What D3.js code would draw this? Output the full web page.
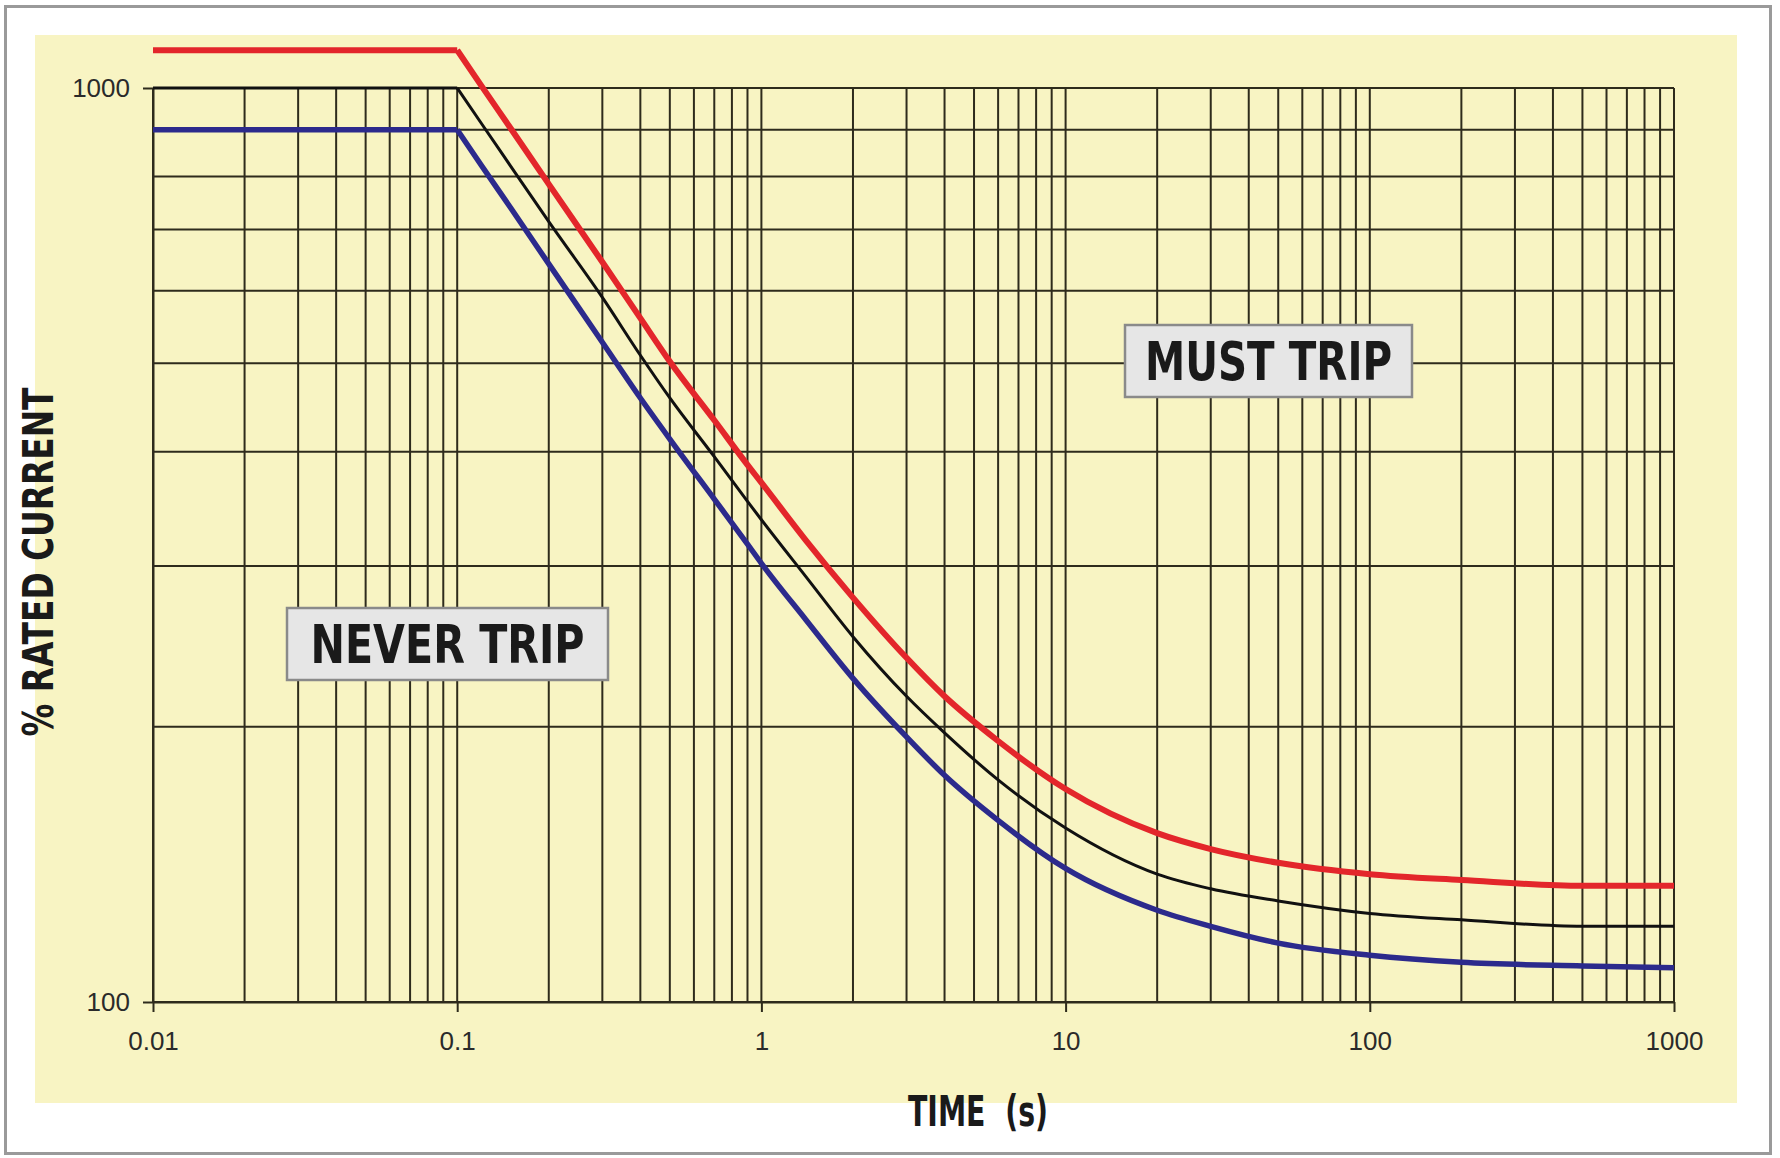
<!DOCTYPE html>
<html>
<head>
<meta charset="utf-8">
<script src="https://cdn.jsdelivr.net/npm/d3@7/dist/d3.min.js"></script>
<style>
  html, body { margin: 0; padding: 0; background: #ffffff; }
  svg { display: block; }
</style>
</head>
<body>
<svg id="chart" width="1780" height="1158"></svg>
<script>
// ---- data ----
const timeTicks = [0.01, 0.1, 1, 10, 100, 1000];
const timeTickLabels = ["0.01", "0.1", "1", "10", "100", "1000"];
const currentTicks = [100, 1000];
const currentTickLabels = ["100", "1000"];

const times = [0.01, 0.1, 0.12, 0.15, 0.2, 0.3, 0.4, 0.5, 0.7, 0.9, 1, 1.4, 2, 3, 4, 6, 10, 20, 30, 50, 100, 200, 500, 1000];
const upperCurve = [1100, 1100, 1006, 903, 785, 645, 560, 502, 433, 387, 370, 320, 277, 238, 216, 193, 171, 153, 147, 142, 138, 136, 134, 134];
const nominalCurve = [1000, 1000, 915, 821, 714, 590, 510, 458, 395, 353, 337, 292, 251, 216, 197, 175, 155, 138, 133, 129, 125, 123, 121, 121];
const lowerCurve = [900, 900, 823, 739, 642, 527, 458, 413, 355, 317, 302, 262, 226, 195, 177, 158, 140, 126, 121, 116, 112.5, 110.5, 109.5, 109];

const seriesNames = ["upper", "nominal", "lower"];
const zoneLabels = ["NEVER TRIP", "MUST TRIP"];
const xTitle = "TIME  (s)";
const yTitle = "% RATED CURRENT";

// ---- layout ----
const svg = d3.select("#chart");
const W = 1780, H = 1158;
const plot = { left: 153, right: 1674, top: 88, bottom: 1002 };

const x = d3.scaleLog().domain([0.01, 1000]).range([plot.left, plot.right]);
const y = d3.scaleLog().domain([100, 1000]).range([plot.bottom, plot.top]);

// outer frame
svg.append("rect").attr("x", 0).attr("y", 0).attr("width", W).attr("height", H).attr("fill", "#ffffff");
svg.append("rect").attr("x", 5.5).attr("y", 6.5).attr("width", 1765).attr("height", 1147)
  .attr("fill", "#ffffff").attr("stroke", "#9a9a9a").attr("stroke-width", 3);

// yellow panel
svg.append("rect").attr("x", 35).attr("y", 35).attr("width", 1702).attr("height", 1068)
  .attr("fill", "#f8f4c3");

// grid
const gridColor = "#2e2b1c";
const grid = svg.append("g");
grid.selectAll("line.v").data(x.ticks()).join("line")
  .attr("class", "v")
  .attr("x1", d => x(d)).attr("x2", d => x(d))
  .attr("y1", plot.top).attr("y2", plot.bottom)
  .attr("stroke", gridColor).attr("stroke-width", 2);
grid.selectAll("line.h").data(y.ticks()).join("line")
  .attr("class", "h")
  .attr("y1", d => y(d)).attr("y2", d => y(d))
  .attr("x1", plot.left).attr("x2", plot.right)
  .attr("stroke", gridColor).attr("stroke-width", 2);

// axes
const tickFont = "'Liberation Sans', Arial, sans-serif";
const xAxis = d3.axisBottom(x).tickValues(timeTicks)
  .tickFormat((d, i) => timeTickLabels[i]).tickSize(10).tickSizeOuter(0);
const gx = svg.append("g").attr("transform", `translate(0,${plot.bottom})`).call(xAxis);
gx.select(".domain").attr("stroke", gridColor).attr("stroke-width", 2);
gx.selectAll(".tick line").attr("stroke", gridColor).attr("stroke-width", 2);
gx.selectAll(".tick text").attr("y", 30).attr("font-size", 26).attr("font-family", tickFont)
  .attr("fill", "#2a2a2a");

const yAxis = d3.axisLeft(y).tickValues(currentTicks)
  .tickFormat((d, i) => currentTickLabels[i]).tickSize(10).tickSizeOuter(0);
const gy = svg.append("g").attr("transform", `translate(${plot.left},0)`).call(yAxis);
gy.select(".domain").attr("stroke", gridColor).attr("stroke-width", 2);
gy.selectAll(".tick line").attr("stroke", gridColor).attr("stroke-width", 2);
gy.selectAll(".tick text").attr("x", -23).attr("font-size", 26).attr("font-family", tickFont)
  .attr("fill", "#2a2a2a");

// curves: flat part drawn straight, falling part smooth
const curves = [
  { name: seriesNames[0], values: upperCurve, color: "#e3262b", width: 6 },
  { name: seriesNames[2], values: lowerCurve, color: "#2c2a8c", width: 5.5 },
  { name: seriesNames[1], values: nominalCurve, color: "#111111", width: 3 }
];
const flatLine = d3.line().x(d => x(d[0])).y(d => y(d[1]));
const fallLine = d3.line().x(d => x(d[0])).y(d => y(d[1])).curve(d3.curveMonotoneX);
const gCurves = svg.append("g");
curves.forEach(c => {
  const pts = times.map((t, i) => [t, c.values[i]]);
  const g = gCurves.append("g");
  [flatLine(pts.slice(0, 2)), fallLine(pts.slice(1))].forEach(dStr => {
    g.append("path").attr("d", dStr)
      .attr("fill", "none")
      .attr("stroke", c.color)
      .attr("stroke-width", c.width)
      .attr("stroke-linejoin", "round")
      .attr("stroke-linecap", "butt");
  });
});

// zone label boxes
const boldFont = "'Liberation Sans Narrow', 'DejaVu Sans Condensed', Arial, sans-serif";
const zones = [
  { text: zoneLabels[0], x: 287, y: 608, w: 321, h: 72, tl: 274 },
  { text: zoneLabels[1], x: 1125, y: 325, w: 287, h: 72, tl: 247 }
];
zones.forEach(z => {
  svg.append("rect").attr("x", z.x).attr("y", z.y).attr("width", z.w).attr("height", z.h)
    .attr("fill", "#e6e6e6").attr("stroke", "#8a8a8a").attr("stroke-width", 2.5);
  svg.append("text").attr("x", z.x + z.w / 2).attr("y", z.y + z.h / 2)
    .attr("text-anchor", "middle").attr("dominant-baseline", "central")
    .attr("font-family", boldFont).attr("font-weight", "bold").attr("font-size", 54)
    .attr("fill", "#1a1a1a")
    .attr("textLength", z.tl).attr("lengthAdjust", "spacingAndGlyphs")
    .text(z.text);
});

// axis titles
svg.append("text").attr("x", 978).attr("y", 1111)
  .attr("text-anchor", "middle").attr("dominant-baseline", "central")
  .attr("font-family", boldFont).attr("font-weight", "bold").attr("font-size", 42)
  .attr("fill", "#1a1a1a").attr("textLength", 140).attr("lengthAdjust", "spacingAndGlyphs")
  .attr("xml:space", "preserve")
  .text(xTitle);

svg.append("text")
  .attr("transform", "translate(38,562) rotate(-90)")
  .attr("text-anchor", "middle").attr("dominant-baseline", "central")
  .attr("font-family", boldFont).attr("font-weight", "bold").attr("font-size", 42)
  .attr("fill", "#1a1a1a").attr("textLength", 349).attr("lengthAdjust", "spacingAndGlyphs")
  .text(yTitle);
</script>
</body>
</html>
